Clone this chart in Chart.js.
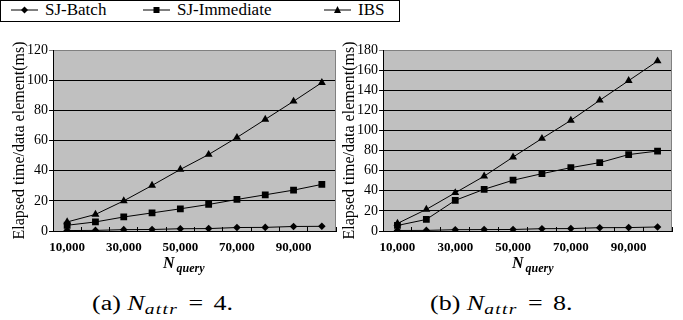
<!DOCTYPE html>
<html>
<head>
<meta charset="utf-8">
<script src="https://cdn.jsdelivr.net/npm/chart.js@4.4.0/dist/chart.umd.min.js"></script>
<style>
  body { margin: 0; width: 683px; height: 320px; background: #fff; position: relative; overflow: hidden; font-family: "Liberation Serif", "Times New Roman", Times, "DejaVu Serif", serif; }
  .box { position: absolute; }
  #legend { left: 153px; top: 3px; width: 398px; height: 20px; border: 1px solid #000; font-size: 17px; }
  #legend .item { position: absolute; top: 0; height: 20px; line-height: 20px; white-space: nowrap; }
  #legend svg { vertical-align: middle; margin-right: 7px; position: relative; top: -1px; }
  .xtitle { position: absolute; top: 255px; font-weight: bold; font-style: italic; font-size: 16px; line-height: 16px; white-space: nowrap; }
  .xtitle span { font-size: 12px; position: relative; top: 4px; margin-left: 2px; }
  .caption { position: absolute; top: 292px; font-size: 20px; line-height: 22px; white-space: nowrap; transform: scaleX(1.3); transform-origin: left top; }
  .caption sub { font-style: italic; font-size: 15px; letter-spacing: 1px; vertical-align: -4px; }
</style>
</head>
<body>
<div id="legend">
  <div class="item" style="left:11px"><svg width="27" height="10"><line x1="0" y1="5" x2="27" y2="5" stroke="#000"/><polygon points="13.5,1.5 17,5 13.5,8.5 10,5" fill="#000"/></svg>SJ-Batch</div>
  <div class="item" style="left:143px"><svg width="27" height="10"><line x1="0" y1="5" x2="27" y2="5" stroke="#000"/><rect x="10.5" y="2" width="6" height="6" fill="#000"/></svg>SJ-Immediate</div>
  <div class="item" style="left:324px"><svg width="27" height="10"><line x1="0" y1="5" x2="27" y2="5" stroke="#000"/><polygon points="13.5,1 17,8 10,8" fill="#000"/></svg>IBS</div>
</div>

<div class="box" style="left:0;top:0;width:341px;height:262px"><canvas id="chartA"></canvas></div>
<div class="box" style="left:330px;top:0;width:348px;height:262px"><canvas id="chartB"></canvas></div>

<div class="xtitle" style="left:163px">N<span>query</span></div>
<div class="xtitle" style="left:512px">N<span>query</span></div>

<div class="caption" style="left:92px">(a) <i>N</i><sub>attr</sub><span style="margin:0 8px">=</span>4.</div>
<div class="caption" style="left:430px">(b) <i>N</i><sub>attr</sub><span style="margin:0 8px">=</span>8.</div>

<script>
// N_query values on the x axis
const categories = ["10,000", "20,000", "30,000", "40,000", "50,000",
                    "60,000", "70,000", "80,000", "90,000", "100,000"];

// (a) N_attr = 4
const batchA = [0.3, 0.4, 0.9, 1.0, 1.5, 1.6, 2.3, 2.4, 3.0, 3.1];
const immediateA = [3.8, 6.0, 9.3, 12.0, 14.7, 17.6, 20.9, 24.0, 27.1, 30.9];
const ibsA = [6.0, 11.0, 20.0, 30.2, 40.8, 50.7, 62.0, 74.0, 86.0, 98.4];
const yMaxA = 120;

// (b) N_attr = 8
const batchB = [0.5, 0.6, 1.3, 1.4, 1.5, 2.3, 2.4, 3.3, 3.4, 4.0];
const immediateB = [5.5, 11.5, 30.5, 41.5, 50.5, 57.0, 63.0, 68.0, 76.0, 79.5];
const ibsB = [7.5, 21.5, 38.0, 54.5, 73.5, 92.0, 110.0, 130.0, 149.5, 169.0];
const yMaxB = 180;

const yStep = 20;
const serif = '"Liberation Serif", "Times New Roman", Times, "DejaVu Serif", serif';

// grey plot area + grey right border
const plotBg = {
  id: "plotBg",
  beforeDraw(chart) {
    const a = chart.chartArea, ctx = chart.ctx;
    ctx.save();
    ctx.fillStyle = "#c0c0c0";
    ctx.fillRect(a.left, a.top, a.right - a.left, a.bottom - a.top);
    ctx.restore();
  },
  beforeDatasetsDraw(chart) {
    const a = chart.chartArea, ctx = chart.ctx;
    ctx.save();
    ctx.strokeStyle = "#808080";
    ctx.lineWidth = 1;
    ctx.beginPath();
    ctx.moveTo(Math.round(a.right) - 0.5, a.top);
    ctx.lineTo(Math.round(a.right) - 0.5, a.bottom);
    ctx.stroke();
    ctx.restore();
  }
};

function series(label, data, style, radius) {
  return {
    label: label,
    data: data,
    borderColor: "#000",
    backgroundColor: "#000",
    borderWidth: 1,
    pointStyle: style,
    pointRadius: radius,
    pointBorderWidth: 0,
    tension: 0
  };
}

function makeChart(id, batch, immediate, ibs, yMax, padLeft, padRight) {
  return new Chart(document.getElementById(id), {
    type: "line",
    data: {
      labels: categories,
      datasets: [
        series("SJ-Batch", batch, "rectRot", 3.8),
        series("SJ-Immediate", immediate, "rect", 4.8),
        series("IBS", ibs, "triangle", 4.6)
      ]
    },
    options: {
      responsive: true,
      maintainAspectRatio: false,
      animation: false,
      events: [],
      layout: { padding: { top: 50, left: padLeft, right: padRight, bottom: 0 } },
      plugins: { legend: { display: false }, tooltip: { enabled: false } },
      scales: {
        x: {
          offset: true,
          grid: { offset: true, drawOnChartArea: false, tickLength: -4, color: "#000" },
          border: { color: "#000", width: 1 },
          ticks: {
            autoSkip: false,
            maxRotation: 0,
            padding: 13,
            color: "#000",
            font: { family: serif, size: 13, weight: "bold" },
            callback: (v, i) => (i % 2 === 0 ? categories[i] : "")
          },
          afterFit: s => { s.height = 31; }
        },
        y: {
          min: 0,
          max: yMax,
          ticks: {
            stepSize: yStep,
            padding: 1,
            color: "#000",
            font: { family: serif, size: 14 }
          },
          grid: {
            tickLength: 4,
            color: c => (c.tick && c.tick.value === yMax ? "#808080" : "#000")
          },
          border: { color: "#000", width: 1 },
          title: {
            display: true,
            text: "Elapsed time/data element(ms)",
            color: "#000",
            font: { family: serif, size: 16 }
          },
          afterFit: s => { s.width = 47; }
        }
      }
    },
    plugins: [plotBg]
  });
}

makeChart("chartA", batchA, immediateA, ibsA, yMaxA, 6, 5);
makeChart("chartB", batchB, immediateB, ibsB, yMaxB, 6, 6);
</script>
</body>
</html>
